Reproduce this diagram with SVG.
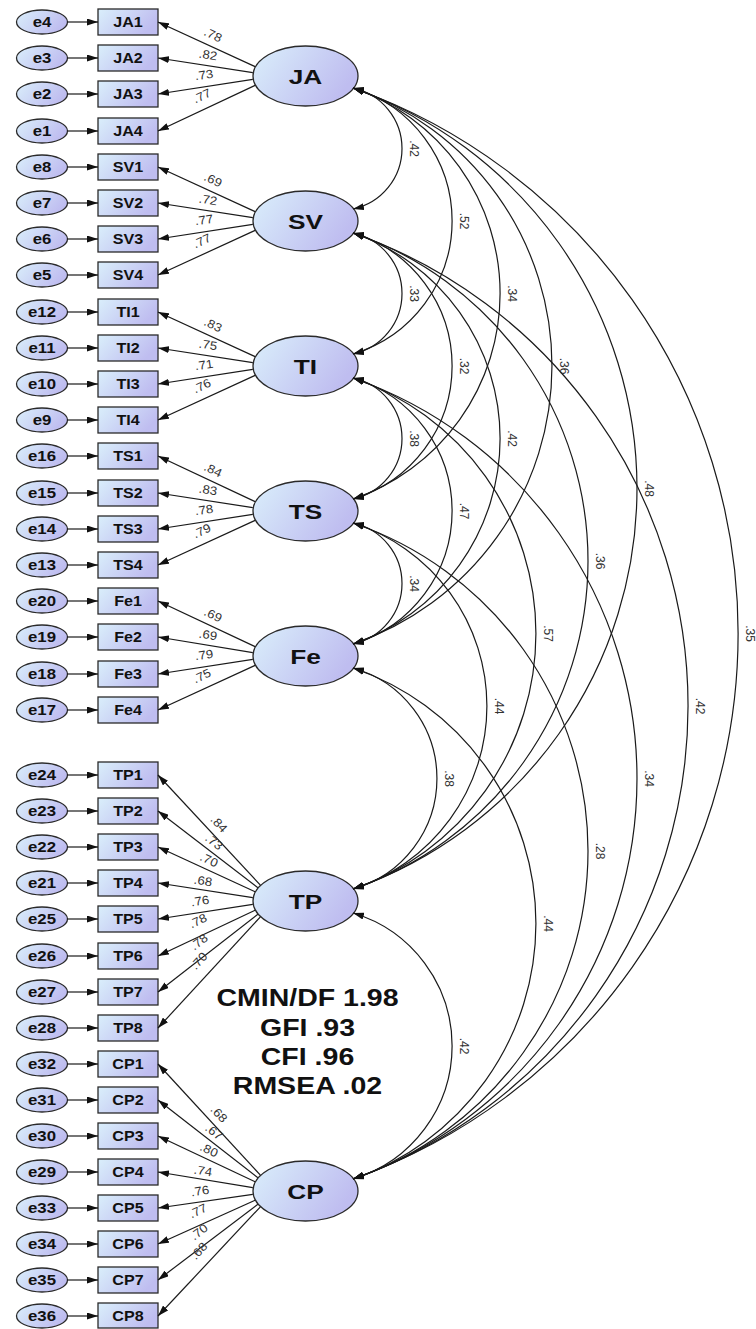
<svg xmlns="http://www.w3.org/2000/svg" width="756" height="1329" viewBox="0 0 756 1329">
<defs>
<linearGradient id="gf" x1="0" y1="0" x2="1" y2="0.4">
<stop offset="0" stop-color="#daeffb"/>
<stop offset="1" stop-color="#bfbdf0"/>
</linearGradient>
<marker id="ah" viewBox="0 0 11 7" refX="11" refY="3.5" markerWidth="11" markerHeight="7" markerUnits="userSpaceOnUse" orient="auto">
<path d="M0,0 L11,3.5 L0,7 z" fill="#111"/>
</marker>
<marker id="ahs" viewBox="0 0 11 7" refX="0" refY="3.5" markerWidth="11" markerHeight="7" markerUnits="userSpaceOnUse" orient="auto">
<path d="M11,0 L0,3.5 L11,7 z" fill="#111"/>
</marker>
<style>
.nd{fill:url(#gf);stroke:#2a2a2a;stroke-width:1.3}
.t{font-family:"Liberation Sans",Arial,sans-serif;font-weight:bold;fill:#111;text-anchor:middle}
.te{font-size:14px}
.tl{font-size:21px}
.tf{font-size:23px}
.ln{stroke:#1a1a1a;stroke-width:1.2;fill:none}
.ar{marker-end:url(#ah)}
.cv{marker-start:url(#ahs);marker-end:url(#ah)}
.lb{font-family:"Liberation Sans",Arial,sans-serif;font-size:12px;fill:#333;text-anchor:middle}
</style>
</defs>
<rect width="756" height="1329" fill="#fff"/>

<!-- error terms -->
<g id="errors">
<g id="e4"><ellipse class="nd" cx="42" cy="22" rx="25.5" ry="12"/><text class="t te" transform="translate(42 27) scale(1.2 1)">e4</text></g>
<g id="e3"><ellipse class="nd" cx="42" cy="58" rx="25.5" ry="12"/><text class="t te" transform="translate(42 63) scale(1.2 1)">e3</text></g>
<g id="e2"><ellipse class="nd" cx="42" cy="94" rx="25.5" ry="12"/><text class="t te" transform="translate(42 99) scale(1.2 1)">e2</text></g>
<g id="e1"><ellipse class="nd" cx="42" cy="131" rx="25.5" ry="12"/><text class="t te" transform="translate(42 136) scale(1.2 1)">e1</text></g>
<g id="e8"><ellipse class="nd" cx="42" cy="167" rx="25.5" ry="12"/><text class="t te" transform="translate(42 172) scale(1.2 1)">e8</text></g>
<g id="e7"><ellipse class="nd" cx="42" cy="203" rx="25.5" ry="12"/><text class="t te" transform="translate(42 208) scale(1.2 1)">e7</text></g>
<g id="e6"><ellipse class="nd" cx="42" cy="239" rx="25.5" ry="12"/><text class="t te" transform="translate(42 244) scale(1.2 1)">e6</text></g>
<g id="e5"><ellipse class="nd" cx="42" cy="275" rx="25.5" ry="12"/><text class="t te" transform="translate(42 280) scale(1.2 1)">e5</text></g>
<g id="e12"><ellipse class="nd" cx="42" cy="312" rx="25.5" ry="12"/><text class="t te" transform="translate(42 317) scale(1.2 1)">e12</text></g>
<g id="e11"><ellipse class="nd" cx="42" cy="348" rx="25.5" ry="12"/><text class="t te" transform="translate(42 353) scale(1.2 1)">e11</text></g>
<g id="e10"><ellipse class="nd" cx="42" cy="384" rx="25.5" ry="12"/><text class="t te" transform="translate(42 389) scale(1.2 1)">e10</text></g>
<g id="e9"><ellipse class="nd" cx="42" cy="420" rx="25.5" ry="12"/><text class="t te" transform="translate(42 425) scale(1.2 1)">e9</text></g>
<g id="e16"><ellipse class="nd" cx="42" cy="456" rx="25.5" ry="12"/><text class="t te" transform="translate(42 461) scale(1.2 1)">e16</text></g>
<g id="e15"><ellipse class="nd" cx="42" cy="493" rx="25.5" ry="12"/><text class="t te" transform="translate(42 498) scale(1.2 1)">e15</text></g>
<g id="e14"><ellipse class="nd" cx="42" cy="529" rx="25.5" ry="12"/><text class="t te" transform="translate(42 534) scale(1.2 1)">e14</text></g>
<g id="e13"><ellipse class="nd" cx="42" cy="565" rx="25.5" ry="12"/><text class="t te" transform="translate(42 570) scale(1.2 1)">e13</text></g>
<g id="e20"><ellipse class="nd" cx="42" cy="601" rx="25.5" ry="12"/><text class="t te" transform="translate(42 606) scale(1.2 1)">e20</text></g>
<g id="e19"><ellipse class="nd" cx="42" cy="637" rx="25.5" ry="12"/><text class="t te" transform="translate(42 642) scale(1.2 1)">e19</text></g>
<g id="e18"><ellipse class="nd" cx="42" cy="674" rx="25.5" ry="12"/><text class="t te" transform="translate(42 679) scale(1.2 1)">e18</text></g>
<g id="e17"><ellipse class="nd" cx="42" cy="710" rx="25.5" ry="12"/><text class="t te" transform="translate(42 715) scale(1.2 1)">e17</text></g>
<g id="e24"><ellipse class="nd" cx="42" cy="775" rx="25.5" ry="12"/><text class="t te" transform="translate(42 780) scale(1.2 1)">e24</text></g>
<g id="e23"><ellipse class="nd" cx="42" cy="811" rx="25.5" ry="12"/><text class="t te" transform="translate(42 816) scale(1.2 1)">e23</text></g>
<g id="e22"><ellipse class="nd" cx="42" cy="847" rx="25.5" ry="12"/><text class="t te" transform="translate(42 852) scale(1.2 1)">e22</text></g>
<g id="e21"><ellipse class="nd" cx="42" cy="883" rx="25.5" ry="12"/><text class="t te" transform="translate(42 888) scale(1.2 1)">e21</text></g>
<g id="e25"><ellipse class="nd" cx="42" cy="919" rx="25.5" ry="12"/><text class="t te" transform="translate(42 924) scale(1.2 1)">e25</text></g>
<g id="e26"><ellipse class="nd" cx="42" cy="956" rx="25.5" ry="12"/><text class="t te" transform="translate(42 961) scale(1.2 1)">e26</text></g>
<g id="e27"><ellipse class="nd" cx="42" cy="992" rx="25.5" ry="12"/><text class="t te" transform="translate(42 997) scale(1.2 1)">e27</text></g>
<g id="e28"><ellipse class="nd" cx="42" cy="1028" rx="25.5" ry="12"/><text class="t te" transform="translate(42 1033) scale(1.2 1)">e28</text></g>
<g id="e32"><ellipse class="nd" cx="42" cy="1064" rx="25.5" ry="12"/><text class="t te" transform="translate(42 1069) scale(1.2 1)">e32</text></g>
<g id="e31"><ellipse class="nd" cx="42" cy="1100" rx="25.5" ry="12"/><text class="t te" transform="translate(42 1105) scale(1.2 1)">e31</text></g>
<g id="e30"><ellipse class="nd" cx="42" cy="1136" rx="25.5" ry="12"/><text class="t te" transform="translate(42 1141) scale(1.2 1)">e30</text></g>
<g id="e29"><ellipse class="nd" cx="42" cy="1172" rx="25.5" ry="12"/><text class="t te" transform="translate(42 1177) scale(1.2 1)">e29</text></g>
<g id="e33"><ellipse class="nd" cx="42" cy="1208" rx="25.5" ry="12"/><text class="t te" transform="translate(42 1213) scale(1.2 1)">e33</text></g>
<g id="e34"><ellipse class="nd" cx="42" cy="1244" rx="25.5" ry="12"/><text class="t te" transform="translate(42 1249) scale(1.2 1)">e34</text></g>
<g id="e35"><ellipse class="nd" cx="42" cy="1280" rx="25.5" ry="12"/><text class="t te" transform="translate(42 1285) scale(1.2 1)">e35</text></g>
<g id="e36"><ellipse class="nd" cx="42" cy="1316" rx="25.5" ry="12"/><text class="t te" transform="translate(42 1321) scale(1.2 1)">e36</text></g>
</g>

<!-- observed indicators -->
<g id="indicators">
<g id="JA1"><rect class="nd" x="98" y="9" width="60" height="26"/><text class="t te" transform="translate(128 27) scale(1.15 1)">JA1</text></g>
<g id="JA2"><rect class="nd" x="98" y="45" width="60" height="26"/><text class="t te" transform="translate(128 63) scale(1.15 1)">JA2</text></g>
<g id="JA3"><rect class="nd" x="98" y="81" width="60" height="26"/><text class="t te" transform="translate(128 99) scale(1.15 1)">JA3</text></g>
<g id="JA4"><rect class="nd" x="98" y="118" width="60" height="26"/><text class="t te" transform="translate(128 136) scale(1.15 1)">JA4</text></g>
<g id="SV1"><rect class="nd" x="98" y="154" width="60" height="26"/><text class="t te" transform="translate(128 172) scale(1.15 1)">SV1</text></g>
<g id="SV2"><rect class="nd" x="98" y="190" width="60" height="26"/><text class="t te" transform="translate(128 208) scale(1.15 1)">SV2</text></g>
<g id="SV3"><rect class="nd" x="98" y="226" width="60" height="26"/><text class="t te" transform="translate(128 244) scale(1.15 1)">SV3</text></g>
<g id="SV4"><rect class="nd" x="98" y="262" width="60" height="26"/><text class="t te" transform="translate(128 280) scale(1.15 1)">SV4</text></g>
<g id="TI1"><rect class="nd" x="98" y="299" width="60" height="26"/><text class="t te" transform="translate(128 317) scale(1.15 1)">TI1</text></g>
<g id="TI2"><rect class="nd" x="98" y="335" width="60" height="26"/><text class="t te" transform="translate(128 353) scale(1.15 1)">TI2</text></g>
<g id="TI3"><rect class="nd" x="98" y="371" width="60" height="26"/><text class="t te" transform="translate(128 389) scale(1.15 1)">TI3</text></g>
<g id="TI4"><rect class="nd" x="98" y="407" width="60" height="26"/><text class="t te" transform="translate(128 425) scale(1.15 1)">TI4</text></g>
<g id="TS1"><rect class="nd" x="98" y="443" width="60" height="26"/><text class="t te" transform="translate(128 461) scale(1.15 1)">TS1</text></g>
<g id="TS2"><rect class="nd" x="98" y="480" width="60" height="26"/><text class="t te" transform="translate(128 498) scale(1.15 1)">TS2</text></g>
<g id="TS3"><rect class="nd" x="98" y="516" width="60" height="26"/><text class="t te" transform="translate(128 534) scale(1.15 1)">TS3</text></g>
<g id="TS4"><rect class="nd" x="98" y="552" width="60" height="26"/><text class="t te" transform="translate(128 570) scale(1.15 1)">TS4</text></g>
<g id="Fe1"><rect class="nd" x="98" y="588" width="60" height="26"/><text class="t te" transform="translate(128 606) scale(1.15 1)">Fe1</text></g>
<g id="Fe2"><rect class="nd" x="98" y="624" width="60" height="26"/><text class="t te" transform="translate(128 642) scale(1.15 1)">Fe2</text></g>
<g id="Fe3"><rect class="nd" x="98" y="661" width="60" height="26"/><text class="t te" transform="translate(128 679) scale(1.15 1)">Fe3</text></g>
<g id="Fe4"><rect class="nd" x="98" y="697" width="60" height="26"/><text class="t te" transform="translate(128 715) scale(1.15 1)">Fe4</text></g>
<g id="TP1"><rect class="nd" x="98" y="762" width="60" height="26"/><text class="t te" transform="translate(128 780) scale(1.15 1)">TP1</text></g>
<g id="TP2"><rect class="nd" x="98" y="798" width="60" height="26"/><text class="t te" transform="translate(128 816) scale(1.15 1)">TP2</text></g>
<g id="TP3"><rect class="nd" x="98" y="834" width="60" height="26"/><text class="t te" transform="translate(128 852) scale(1.15 1)">TP3</text></g>
<g id="TP4"><rect class="nd" x="98" y="870" width="60" height="26"/><text class="t te" transform="translate(128 888) scale(1.15 1)">TP4</text></g>
<g id="TP5"><rect class="nd" x="98" y="906" width="60" height="26"/><text class="t te" transform="translate(128 924) scale(1.15 1)">TP5</text></g>
<g id="TP6"><rect class="nd" x="98" y="943" width="60" height="26"/><text class="t te" transform="translate(128 961) scale(1.15 1)">TP6</text></g>
<g id="TP7"><rect class="nd" x="98" y="979" width="60" height="26"/><text class="t te" transform="translate(128 997) scale(1.15 1)">TP7</text></g>
<g id="TP8"><rect class="nd" x="98" y="1015" width="60" height="26"/><text class="t te" transform="translate(128 1033) scale(1.15 1)">TP8</text></g>
<g id="CP1"><rect class="nd" x="98" y="1051" width="60" height="26"/><text class="t te" transform="translate(128 1069) scale(1.15 1)">CP1</text></g>
<g id="CP2"><rect class="nd" x="98" y="1087" width="60" height="26"/><text class="t te" transform="translate(128 1105) scale(1.15 1)">CP2</text></g>
<g id="CP3"><rect class="nd" x="98" y="1123" width="60" height="26"/><text class="t te" transform="translate(128 1141) scale(1.15 1)">CP3</text></g>
<g id="CP4"><rect class="nd" x="98" y="1159" width="60" height="26"/><text class="t te" transform="translate(128 1177) scale(1.15 1)">CP4</text></g>
<g id="CP5"><rect class="nd" x="98" y="1195" width="60" height="26"/><text class="t te" transform="translate(128 1213) scale(1.15 1)">CP5</text></g>
<g id="CP6"><rect class="nd" x="98" y="1231" width="60" height="26"/><text class="t te" transform="translate(128 1249) scale(1.15 1)">CP6</text></g>
<g id="CP7"><rect class="nd" x="98" y="1267" width="60" height="26"/><text class="t te" transform="translate(128 1285) scale(1.15 1)">CP7</text></g>
<g id="CP8"><rect class="nd" x="98" y="1303" width="60" height="25" /><text class="t te" transform="translate(128 1321) scale(1.15 1)">CP8</text></g>
</g>

<!-- latent variables -->
<g id="latents">
<g id="JA"><ellipse class="nd" cx="305.5" cy="76" rx="52.5" ry="30"/><text class="t tl" transform="translate(305.5 83.5) scale(1.25 1)">JA</text></g>
<g id="SV"><ellipse class="nd" cx="305.5" cy="221" rx="52.5" ry="30"/><text class="t tl" transform="translate(305.5 228.5) scale(1.25 1)">SV</text></g>
<g id="TI"><ellipse class="nd" cx="305.5" cy="366" rx="52.5" ry="30"/><text class="t tl" transform="translate(305.5 373.5) scale(1.25 1)">TI</text></g>
<g id="TS"><ellipse class="nd" cx="305.5" cy="511" rx="52.5" ry="30"/><text class="t tl" transform="translate(305.5 518.5) scale(1.25 1)">TS</text></g>
<g id="Fe"><ellipse class="nd" cx="305.5" cy="656" rx="52.5" ry="30"/><text class="t tl" transform="translate(305.5 663.5) scale(1.25 1)">Fe</text></g>
<g id="TP"><ellipse class="nd" cx="305.5" cy="901" rx="52.5" ry="30"/><text class="t tl" transform="translate(305.5 908.5) scale(1.25 1)">TP</text></g>
<g id="CP"><ellipse class="nd" cx="305.5" cy="1191" rx="52.5" ry="30"/><text class="t tl" transform="translate(305.5 1198.5) scale(1.25 1)">CP</text></g>
</g>

<!-- fit indices -->
<g id="fit">
<text class="t tf" transform="translate(307.5 1006) scale(1.24 1)">CMIN/DF 1.98</text>
<text class="t tf" transform="translate(307.5 1036) scale(1.24 1)">GFI .93</text>
<text class="t tf" transform="translate(307.5 1065) scale(1.24 1)">CFI .96</text>
<text class="t tf" transform="translate(307.5 1094) scale(1.24 1)">RMSEA .02</text>
</g>

<g id="connectors">
<!-- error -> indicator -->
<g class="ln ar">
<line x1="67.5" y1="22" x2="98" y2="22"/><line x1="67.5" y1="58" x2="98" y2="58"/><line x1="67.5" y1="94" x2="98" y2="94"/><line x1="67.5" y1="131" x2="98" y2="131"/>
<line x1="67.5" y1="167" x2="98" y2="167"/><line x1="67.5" y1="203" x2="98" y2="203"/><line x1="67.5" y1="239" x2="98" y2="239"/><line x1="67.5" y1="275" x2="98" y2="275"/>
<line x1="67.5" y1="312" x2="98" y2="312"/><line x1="67.5" y1="348" x2="98" y2="348"/><line x1="67.5" y1="384" x2="98" y2="384"/><line x1="67.5" y1="420" x2="98" y2="420"/>
<line x1="67.5" y1="456" x2="98" y2="456"/><line x1="67.5" y1="493" x2="98" y2="493"/><line x1="67.5" y1="529" x2="98" y2="529"/><line x1="67.5" y1="565" x2="98" y2="565"/>
<line x1="67.5" y1="601" x2="98" y2="601"/><line x1="67.5" y1="637" x2="98" y2="637"/><line x1="67.5" y1="674" x2="98" y2="674"/><line x1="67.5" y1="710" x2="98" y2="710"/>
<line x1="67.5" y1="775" x2="98" y2="775"/><line x1="67.5" y1="811" x2="98" y2="811"/><line x1="67.5" y1="847" x2="98" y2="847"/><line x1="67.5" y1="883" x2="98" y2="883"/>
<line x1="67.5" y1="919" x2="98" y2="919"/><line x1="67.5" y1="956" x2="98" y2="956"/><line x1="67.5" y1="992" x2="98" y2="992"/><line x1="67.5" y1="1028" x2="98" y2="1028"/>
<line x1="67.5" y1="1064" x2="98" y2="1064"/><line x1="67.5" y1="1100" x2="98" y2="1100"/><line x1="67.5" y1="1136" x2="98" y2="1136"/><line x1="67.5" y1="1172" x2="98" y2="1172"/>
<line x1="67.5" y1="1208" x2="98" y2="1208"/><line x1="67.5" y1="1244" x2="98" y2="1244"/><line x1="67.5" y1="1280" x2="98" y2="1280"/><line x1="67.5" y1="1316" x2="98" y2="1316"/>
</g>
<!-- loadings -->
<g class="ln ar">
<line x1="255.1" y1="66.6" x2="158" y2="22"/><line x1="252.8" y1="72.6" x2="158" y2="58"/><line x1="252.8" y1="79.4" x2="158" y2="94"/><line x1="255.1" y1="85.4" x2="158" y2="131"/>
<line x1="255.1" y1="211.6" x2="158" y2="167"/><line x1="252.8" y1="217.6" x2="158" y2="203"/><line x1="252.8" y1="224.4" x2="158" y2="239"/><line x1="255.1" y1="230.4" x2="158" y2="275"/>
<line x1="255.1" y1="356.6" x2="158" y2="312"/><line x1="252.8" y1="362.6" x2="158" y2="348"/><line x1="252.8" y1="369.4" x2="158" y2="384"/><line x1="255.1" y1="375.4" x2="158" y2="420"/>
<line x1="255.1" y1="501.6" x2="158" y2="456"/><line x1="252.8" y1="507.6" x2="158" y2="493"/><line x1="252.8" y1="514.4" x2="158" y2="529"/><line x1="255.1" y1="520.4" x2="158" y2="565"/>
<line x1="255.1" y1="646.6" x2="158" y2="601"/><line x1="252.8" y1="652.6" x2="158" y2="637"/><line x1="252.8" y1="659.4" x2="158" y2="674"/><line x1="255.1" y1="665.4" x2="158" y2="710"/>
<line x1="260.4" y1="885.2" x2="158" y2="775"/><line x1="257.9" y1="887.7" x2="158" y2="811"/><line x1="255.1" y1="891.8" x2="158" y2="847"/><line x1="252.8" y1="897.6" x2="158" y2="883"/>
<line x1="252.8" y1="904.4" x2="158" y2="919"/><line x1="255.1" y1="910.2" x2="158" y2="956"/><line x1="257.9" y1="914.3" x2="158" y2="992"/><line x1="260.4" y1="916.8" x2="158" y2="1028"/>
<line x1="260.4" y1="1175.2" x2="158" y2="1064"/><line x1="257.9" y1="1177.7" x2="158" y2="1100"/><line x1="255.1" y1="1181.8" x2="158" y2="1136"/><line x1="252.8" y1="1187.6" x2="158" y2="1172"/>
<line x1="252.8" y1="1194.4" x2="158" y2="1208"/><line x1="255.1" y1="1200.2" x2="158" y2="1244"/><line x1="257.9" y1="1204.3" x2="158" y2="1280"/><line x1="260.4" y1="1206.8" x2="158" y2="1316"/>
</g>
<!-- covariances -->
<g class="ln cv">
<path d="M353 88 A61.85 61.85 0 0 1 353 209"/>
<path d="M353 233 A61.85 61.85 0 0 1 353 354"/>
<path d="M353 378 A61.85 61.85 0 0 1 353 499"/>
<path d="M353 523 A61.85 61.85 0 0 1 353 644"/>
<path d="M353 668 A114.7 114.7 0 0 1 353 889"/>
<path d="M353 88 A138.8 138.8 0 0 1 353 354"/>
<path d="M353 233 A138.8 138.8 0 0 1 353 499"/>
<path d="M353 378 A138.8 138.8 0 0 1 353 644"/>
<path d="M353 913 A138.8 138.8 0 0 1 353 1179"/>
<path d="M353 523 A192 192 0 0 1 353 889"/>
<path d="M353 88 A217.1 217.1 0 0 1 353 499"/>
<path d="M353 233 A217.1 217.1 0 0 1 353 644"/>
<path d="M353 378 A269.9 269.9 0 0 1 353 889"/>
<path d="M353 668 A269.9 269.9 0 0 1 353 1179"/>
<path d="M353 88 A293.7 293.7 0 0 1 353 644"/>
<path d="M353 233 A346.4 346.4 0 0 1 353 889"/>
<path d="M353 523 A346.4 346.4 0 0 1 353 1179"/>
<path d="M353 88 A424.4 424.4 0 0 1 353 889"/>
<path d="M353 378 A424.4 424.4 0 0 1 353 1179"/>
<path d="M353 233 A501.4 501.4 0 0 1 353 1179"/>
<path d="M353 88 A578.9 578.9 0 0 1 353 1179"/>
</g>
</g>

<!-- loading labels -->
<g id="loading-labels">
<text class="lb" y="4" transform="translate(213 35) rotate(24.9) scale(1.1 1)">.78</text>
<text class="lb" y="4" transform="translate(208 55) rotate(8.8) scale(1.1 1)">.82</text>
<text class="lb" y="4" transform="translate(204 75) rotate(-8.8) scale(1.1 1)">.73</text>
<text class="lb" y="4" transform="translate(202 96) rotate(-24.9) scale(1.1 1)">.77</text>
<text class="lb" y="4" transform="translate(213 180) rotate(24.9) scale(1.1 1)">.69</text>
<text class="lb" y="4" transform="translate(208 200) rotate(8.8) scale(1.1 1)">.72</text>
<text class="lb" y="4" transform="translate(204 220) rotate(-8.8) scale(1.1 1)">.77</text>
<text class="lb" y="4" transform="translate(202 241) rotate(-24.9) scale(1.1 1)">.77</text>
<text class="lb" y="4" transform="translate(213 325) rotate(24.9) scale(1.1 1)">.83</text>
<text class="lb" y="4" transform="translate(208 345) rotate(8.8) scale(1.1 1)">.75</text>
<text class="lb" y="4" transform="translate(204 365) rotate(-8.8) scale(1.1 1)">.71</text>
<text class="lb" y="4" transform="translate(202 386) rotate(-24.9) scale(1.1 1)">.76</text>
<text class="lb" y="4" transform="translate(213 470) rotate(24.9) scale(1.1 1)">.84</text>
<text class="lb" y="4" transform="translate(208 490) rotate(8.8) scale(1.1 1)">.83</text>
<text class="lb" y="4" transform="translate(204 510) rotate(-8.8) scale(1.1 1)">.78</text>
<text class="lb" y="4" transform="translate(202 531) rotate(-24.9) scale(1.1 1)">.79</text>
<text class="lb" y="4" transform="translate(213 615) rotate(24.9) scale(1.1 1)">.69</text>
<text class="lb" y="4" transform="translate(208 635) rotate(8.8) scale(1.1 1)">.69</text>
<text class="lb" y="4" transform="translate(204 655) rotate(-8.8) scale(1.1 1)">.79</text>
<text class="lb" y="4" transform="translate(202 676) rotate(-24.9) scale(1.1 1)">.75</text>
<text class="lb" y="4" transform="translate(219 824) rotate(47.6) scale(1.1 1)">.84</text>
<text class="lb" y="4" transform="translate(214 842) rotate(38) scale(1.1 1)">.73</text>
<text class="lb" y="4" transform="translate(209 860) rotate(25) scale(1.1 1)">.70</text>
<text class="lb" y="4" transform="translate(203 881) rotate(8.9) scale(1.1 1)">.68</text>
<text class="lb" y="4" transform="translate(200 901) rotate(-8.9) scale(1.1 1)">.76</text>
<text class="lb" y="4" transform="translate(198 921) rotate(-25) scale(1.1 1)">.78</text>
<text class="lb" y="4" transform="translate(199 942) rotate(-38) scale(1.1 1)">.78</text>
<text class="lb" y="4" transform="translate(199 961) rotate(-47.6) scale(1.1 1)">.70</text>
<text class="lb" y="4" transform="translate(219 1114) rotate(47.6) scale(1.1 1)">.68</text>
<text class="lb" y="4" transform="translate(214 1132) rotate(38) scale(1.1 1)">.67</text>
<text class="lb" y="4" transform="translate(209 1150) rotate(25) scale(1.1 1)">.80</text>
<text class="lb" y="4" transform="translate(203 1171) rotate(8.9) scale(1.1 1)">.74</text>
<text class="lb" y="4" transform="translate(200 1191) rotate(-8.9) scale(1.1 1)">.76</text>
<text class="lb" y="4" transform="translate(198 1211) rotate(-25) scale(1.1 1)">.77</text>
<text class="lb" y="4" transform="translate(199 1232) rotate(-38) scale(1.1 1)">.70</text>
<text class="lb" y="4" transform="translate(199 1251) rotate(-47.6) scale(1.1 1)">.68</text>
</g>

<!-- covariance labels -->
<g id="covariance-labels">
<text class="lb" transform="translate(409.5 148.5) rotate(90)">.42</text>
<text class="lb" transform="translate(409.5 293.5) rotate(90)">.33</text>
<text class="lb" transform="translate(409.5 438.5) rotate(90)">.38</text>
<text class="lb" transform="translate(409.5 583.5) rotate(90)">.34</text>
<text class="lb" transform="translate(444.5 778.5) rotate(90)">.38</text>
<text class="lb" transform="translate(459.5 221) rotate(90)">.52</text>
<text class="lb" transform="translate(459.5 366) rotate(90)">.32</text>
<text class="lb" transform="translate(459.5 511) rotate(90)">.47</text>
<text class="lb" transform="translate(459.5 1046) rotate(90)">.42</text>
<text class="lb" transform="translate(494.5 706) rotate(90)">.44</text>
<text class="lb" transform="translate(507.5 293.5) rotate(90)">.34</text>
<text class="lb" transform="translate(507.5 438.5) rotate(90)">.42</text>
<text class="lb" transform="translate(543.5 633.5) rotate(90)">.57</text>
<text class="lb" transform="translate(543.5 923.5) rotate(90)">.44</text>
<text class="lb" transform="translate(559.5 366) rotate(90)">.36</text>
<text class="lb" transform="translate(595.5 561) rotate(90)">.36</text>
<text class="lb" transform="translate(595.5 851) rotate(90)">.28</text>
<text class="lb" transform="translate(644.5 488.5) rotate(90)">.48</text>
<text class="lb" transform="translate(644.5 778.5) rotate(90)">.34</text>
<text class="lb" transform="translate(695.5 706) rotate(90)">.42</text>
<text class="lb" transform="translate(745.5 633.5) rotate(90)">.35</text>
</g>
</svg>
